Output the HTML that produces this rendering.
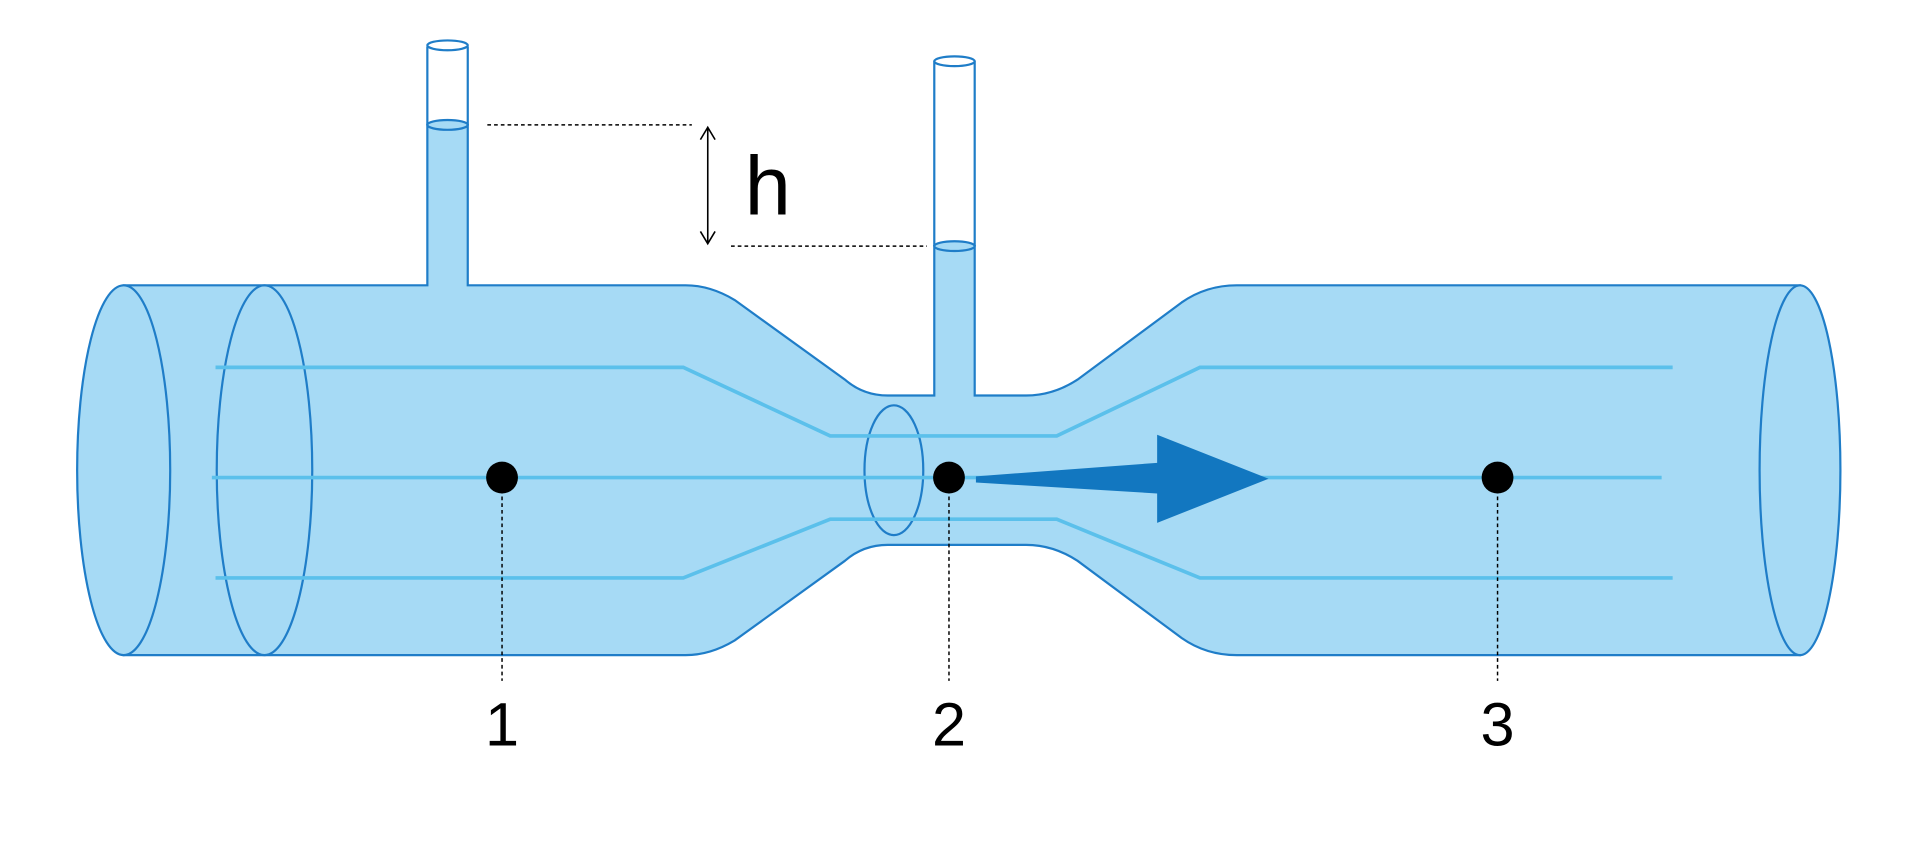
<!DOCTYPE html>
<html><head><style>html,body{margin:0;padding:0;background:#fff}svg{display:block}</style></head>
<body>
<svg width="1920" height="847" viewBox="0 0 1568 691.7" xmlns="http://www.w3.org/2000/svg">
<g fill="#a6daf5" stroke="#1f7dc8" stroke-width="1.8">
<path d="M101,233 L349,233 L349,102 L382,102 L382,233 L560,233 Q580,233 600,245 L690,310 Q705,323 725,323 L763,323 L763,201 L796,201 L796,323 L838,323 Q860,323 880,310 L965,247 Q985,233 1010,233 L1470,233 L1470,535 L1010,535 Q985,535 965,521 L880,458 Q860,445 838,445 L725,445 Q705,445 690,458 L600,523 Q580,535 560,535 L101,535 Z"/>
<ellipse cx="101" cy="384" rx="38" ry="151"/>
<ellipse cx="216" cy="384" rx="39" ry="151" fill="none"/>
<ellipse cx="1470" cy="384" rx="33" ry="151"/>
<ellipse cx="730" cy="384" rx="24" ry="53" fill="none"/>
<path d="M349,102 L349,38 M382,38 L382,102 M763,201 L763,50 M796,50 L796,201" fill="none"/>
<ellipse cx="365.5" cy="37" rx="16.5" ry="4" fill="#fff"/>
<ellipse cx="365.5" cy="102" rx="16.5" ry="4"/>
<ellipse cx="779.5" cy="50" rx="16.5" ry="4" fill="#fff"/>
<ellipse cx="779.5" cy="201" rx="16.5" ry="4"/>
</g>
<g fill="none" stroke="#5bc0eb" stroke-width="3">
<path d="M176,300 L558,300 L678,356 L863,356 L980,300 L1366,300"/>
<path d="M173,390 L1357,390"/>
<path d="M176,472 L558,472 L678,424 L863,424 L980,472 L1366,472"/>
</g>
<polygon points="797,389 945,378 945,355 1036,391 945,427 945,403 797,394" fill="#1277c0"/>
<g fill="#000"><circle cx="410" cy="390" r="13"/><circle cx="775" cy="390" r="13"/><circle cx="1223" cy="390" r="13"/></g>
<g stroke="#000" stroke-width="1.2" stroke-dasharray="3,2.5" fill="none">
<path d="M410,400 L410,556 M775,400 L775,556 M1223,400 L1223,556"/>
<path d="M398,102 L565,102 M597,201 L757,201"/>
</g>
<g stroke="#000" stroke-width="1.3" fill="none">
<path d="M578,104 L578,199 M572,114 L578,104 L584,114 M572,189 L578,199 L584,189"/>
</g>
<g font-family="Liberation Sans, sans-serif" fill="#000" text-anchor="middle">
<text x="627" y="175" font-size="68">h</text>
<text x="410" y="609" font-size="50">1</text>
<text x="775" y="609" font-size="50">2</text>
<text x="1223" y="609" font-size="50">3</text>
</g>
</svg>
</body></html>
